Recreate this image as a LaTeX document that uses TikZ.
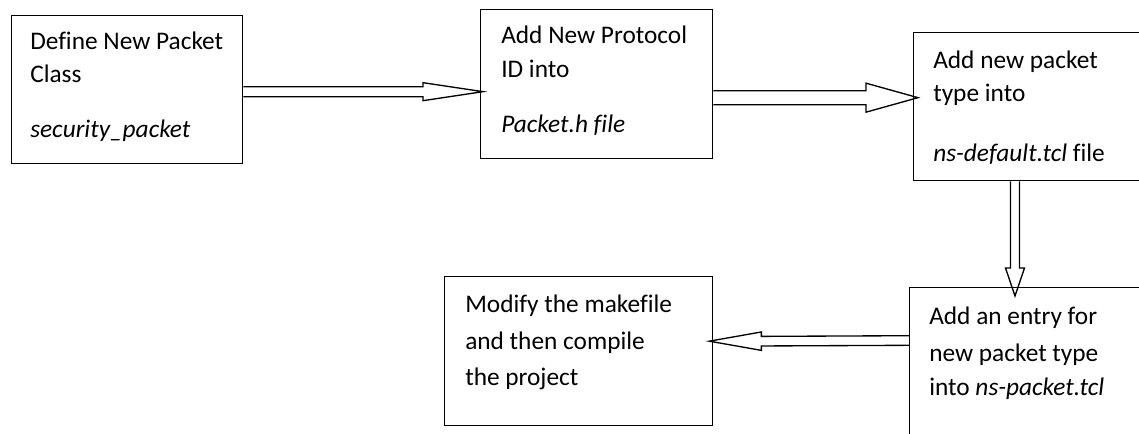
\documentclass[tikz,border=0pt]{standalone}
\usepackage{fontspec}
\setmainfont{Carlito}[Ligatures=NoCommon]
\usetikzlibrary{calc}

\tikzset{
  box/.style={draw, line width=1pt, rectangle, anchor=north west, inner sep=0pt},
  txt/.style={anchor=base west, inner sep=0pt, font=\fontsize{19}{23}\selectfont},
  harrow/.style={draw, line width=1pt, line join=miter}
}

\begin{document}
\begin{tikzpicture}[x=0.75pt, y=-0.75pt]
  \useasboundingbox (0,0) rectangle (1139,433);

  % process boxes (the two on the right run past the edge of the page)
  \node[box, minimum width=231*0.75pt, minimum height=148*0.75pt] (b1) at (11,15) {};
  \node[box, minimum width=232*0.75pt, minimum height=149*0.75pt] (b2) at (480,9) {};
  \node[box, minimum width=247*0.75pt, minimum height=148*0.75pt] (b3) at (913,32) {};
  \node[box, minimum width=251*0.75pt, minimum height=173*0.75pt] (b4) at (909,287) {};
  \node[box, minimum width=268*0.75pt, minimum height=149*0.75pt] (b5) at (444,276) {};

  % box texts
  \node[txt] (t1a) at ($(b1.north west)+(19,34)$) {Define New Packet};
  \node[txt] (t1b) at ($(b1.north west)+(19,67)$) {Class};
  \node[txt] (t1c) at ($(b1.north west)+(19,122)$) {\itshape security\_packet};

  \node[txt] (t2a) at ($(b2.north west)+(21,34)$) {Add New Protocol};
  \node[txt] (t2b) at ($(b2.north west)+(21,68)$) {ID into};
  \node[txt] (t2c) at ($(b2.north west)+(21,123)$) {\itshape Packet.h file};

  \node[txt] (t3a) at ($(b3.north west)+(20,36)$) {Add new packet};
  \node[txt] (t3b) at ($(b3.north west)+(20,69)$) {type into};
  \node[txt] (t3c) at ($(b3.north west)+(20,129)$) {\itshape ns-default.tcl\upshape{} file};

  \node[txt] (t4a) at ($(b4.north west)+(20,37)$) {Add an entry for};
  \node[txt] (t4b) at ($(b4.north west)+(20,74)$) {new packet type};
  \node[txt] (t4c) at ($(b4.north west)+(20,108)$) {into \itshape ns-packet.tcl};

  \node[txt] (t5a) at ($(b5.north west)+(21,36)$) {Modify the makefile};
  \node[txt] (t5b) at ($(b5.north west)+(21,73)$) {and then compile};
  \node[txt] (t5c) at ($(b5.north west)+(21,109)$) {the project};

  % connector end points
  \coordinate (a1s) at ($(b1.east)+(0,2)$);
  \coordinate (a1t) at ($(b2.west)+(3,7.5)$);
  \coordinate (a2s) at ($(b2.east)+(0,13.5)$);
  \coordinate (a2t) at ($(b3.west)+(5,-9)$);
  \coordinate (a3s) at ($(b3.south west)+(102,0)$);
  \coordinate (a3t) at ($(b4.north west)+(106,9)$);
  \coordinate (a4s) at ($(b4.north west)+(0,53.5)$);
  \coordinate (a4t) at ($(b5.east)+(-4,-10)$);

  % hollow block arrows with a two-line shaft
  \draw[harrow] ($(a1s)+(0,-5)$) -- ($(a1t)+(-60,-5)$) -- ($(a1t)+(-60,-9)$) -- (a1t)
    -- ($(a1t)+(-60,9)$) -- ($(a1t)+(-60,5)$) -- ($(a1s)+(0,5)$);
  \draw[harrow] ($(a2s)+(0,-7)$) -- ($(a2t)+(-52,-7)$) -- ($(a2t)+(-52,-14.5)$) -- (a2t)
    -- ($(a2t)+(-52,14.5)$) -- ($(a2t)+(-52,7)$) -- ($(a2s)+(0,7)$);
  \draw[harrow] ($(a3s)+(-4.5,0)$) -- ($(a3t)+(-4.5,-28)$) -- ($(a3t)+(-9.5,-28)$) -- (a3t)
    -- ($(a3t)+(9.5,-28)$) -- ($(a3t)+(4.5,-28)$) -- ($(a3s)+(4.5,0)$);
  \draw[harrow] ($(a4s)+(0,-4.8)$) -- ($(a4t)+(52,-4.8)$) -- ($(a4t)+(52,-9.2)$) -- (a4t)
    -- ($(a4t)+(52,9.2)$) -- ($(a4t)+(52,4.8)$) -- ($(a4s)+(0,4.8)$);
\end{tikzpicture}
\end{document}
